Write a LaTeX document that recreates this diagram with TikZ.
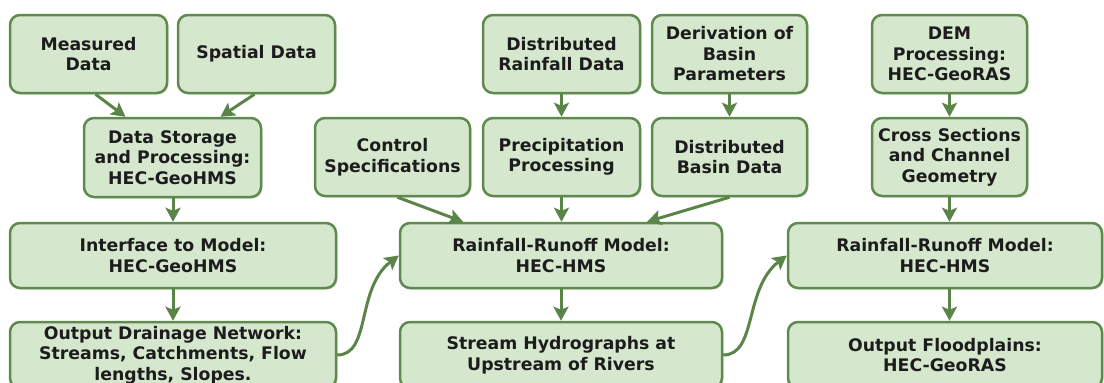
\documentclass[tikz,border=0pt]{standalone}
\usepackage{fontspec}
\setmainfont{DejaVu Sans}
\usetikzlibrary{arrows.meta,shadows,calc}
\definecolor{boxfill}{HTML}{D5E7CD}
\definecolor{boxline}{HTML}{5E8A4E}
\definecolor{arrowc}{HTML}{5A8448}
\definecolor{txt}{HTML}{1C1C1C}
\begin{document}
\begin{tikzpicture}[x=1pt,y=-1pt,
  box/.style={draw=boxline, fill=boxfill, line width=2.5pt, rounded corners=10pt,
    minimum width=#1, inner sep=0pt, align=center, text=txt,
    font=\fontsize{17.3}{20.5}\selectfont\bfseries,
    drop shadow={opacity=0.25, shadow xshift=1.5pt, shadow yshift=-1.5pt}},
  flow/.style={draw=arrowc, line width=3pt, -{Stealth[length=14pt,width=15pt,inset=3pt]}}]
\useasboundingbox (0,0) rectangle (1104,383);
% top row
\node[box=157pt, minimum height=78pt] (meas) at (88.5,54) {Measured\\Data};
\node[box=157pt, minimum height=78pt] (spat) at (256.5,54) {Spatial Data};
\node[box=157pt, minimum height=78pt] (drain) at (561.5,54) {Distributed\\Rainfall Data};
\node[box=155pt, minimum height=78pt] (deriv) at (729.5,54) {Derivation of\\Basin\\Parameters};
\node[box=155pt, minimum height=78pt] (dem) at (949.5,54) {DEM\\Processing:\\HEC-GeoRAS};
% second row
\node[box=177pt, minimum height=79pt] (store) at (172.5,157.5) {Data Storage\\and Processing:\\HEC-GeoHMS};
\node[box=155pt, minimum height=78pt] (ctrl) at (392.5,157) {Control\\Specifications};
\node[box=157pt, minimum height=78pt] (precip) at (561.5,157) {Precipitation\\Processing};
\node[box=155pt, minimum height=78pt] (dbasin) at (729.5,157) {Distributed\\Basin Data};
\node[box=155pt, minimum height=78pt] (cross) at (949.5,157) {Cross Sections\\and Channel\\Geometry};
% third row
\node[box=326pt, minimum height=65pt] (iface) at (173,255.5) {Interface to Model:\\HEC-GeoHMS};
\node[box=322pt, minimum height=65pt] (rr1) at (561,255.5) {Rainfall-Runoff Model:\\HEC-HMS};
\node[box=314pt, minimum height=65pt] (rr2) at (945,255.5) {Rainfall-Runoff Model:\\HEC-HMS};
% bottom row
\node[box=326pt, minimum height=66pt] (outd) at (173,355) {Output Drainage Network:\\Streams, Catchments, Flow\\lengths, Slopes.};
\node[box=322pt, minimum height=66pt] (stream) at (561,355) {Stream Hydrographs at\\Upstream of Rivers};
\node[box=314pt, minimum height=66pt] (flood) at (945,355) {Output Floodplains:\\HEC-GeoRAS};
% connectors
\draw[flow] ($(meas.south)+(7,0)$) -- ($(store.north)+(-47,0)$);
\draw[flow] ($(spat.south)+(-2,0)$) -- ($(store.north)+(48,0)$);
\draw[flow] (iface.north |- store.south) -- (iface.north);
\draw[flow] (iface.south) -- (outd.north);
\draw[flow] ($(ctrl.south)+(5,0)$) -- ($(rr1.north)+(-98,0)$);
\draw[flow] (drain.south) -- (precip.north);
\draw[flow] (precip.south) -- (precip.south |- rr1.north);
\draw[flow] (deriv.south) -- (dbasin.north);
\draw[flow] (dbasin.south) -- ($(rr1.north)+(86,0)$);
\draw[flow] (rr1.south) -- (stream.north);
\draw[flow] (dem.south) -- (cross.north);
\draw[flow] (cross.south) -- (cross.south |- rr2.north);
\draw[flow] (cross.south |- rr2.south) -- (cross.south |- flood.north);
\draw[flow] (outd.east) .. controls +(34,0) and +(-43,33) .. (rr1.west);
\draw[flow] (stream.east) .. controls +(34,0) and +(-43,33) .. (rr2.west);
\end{tikzpicture}
\end{document}
